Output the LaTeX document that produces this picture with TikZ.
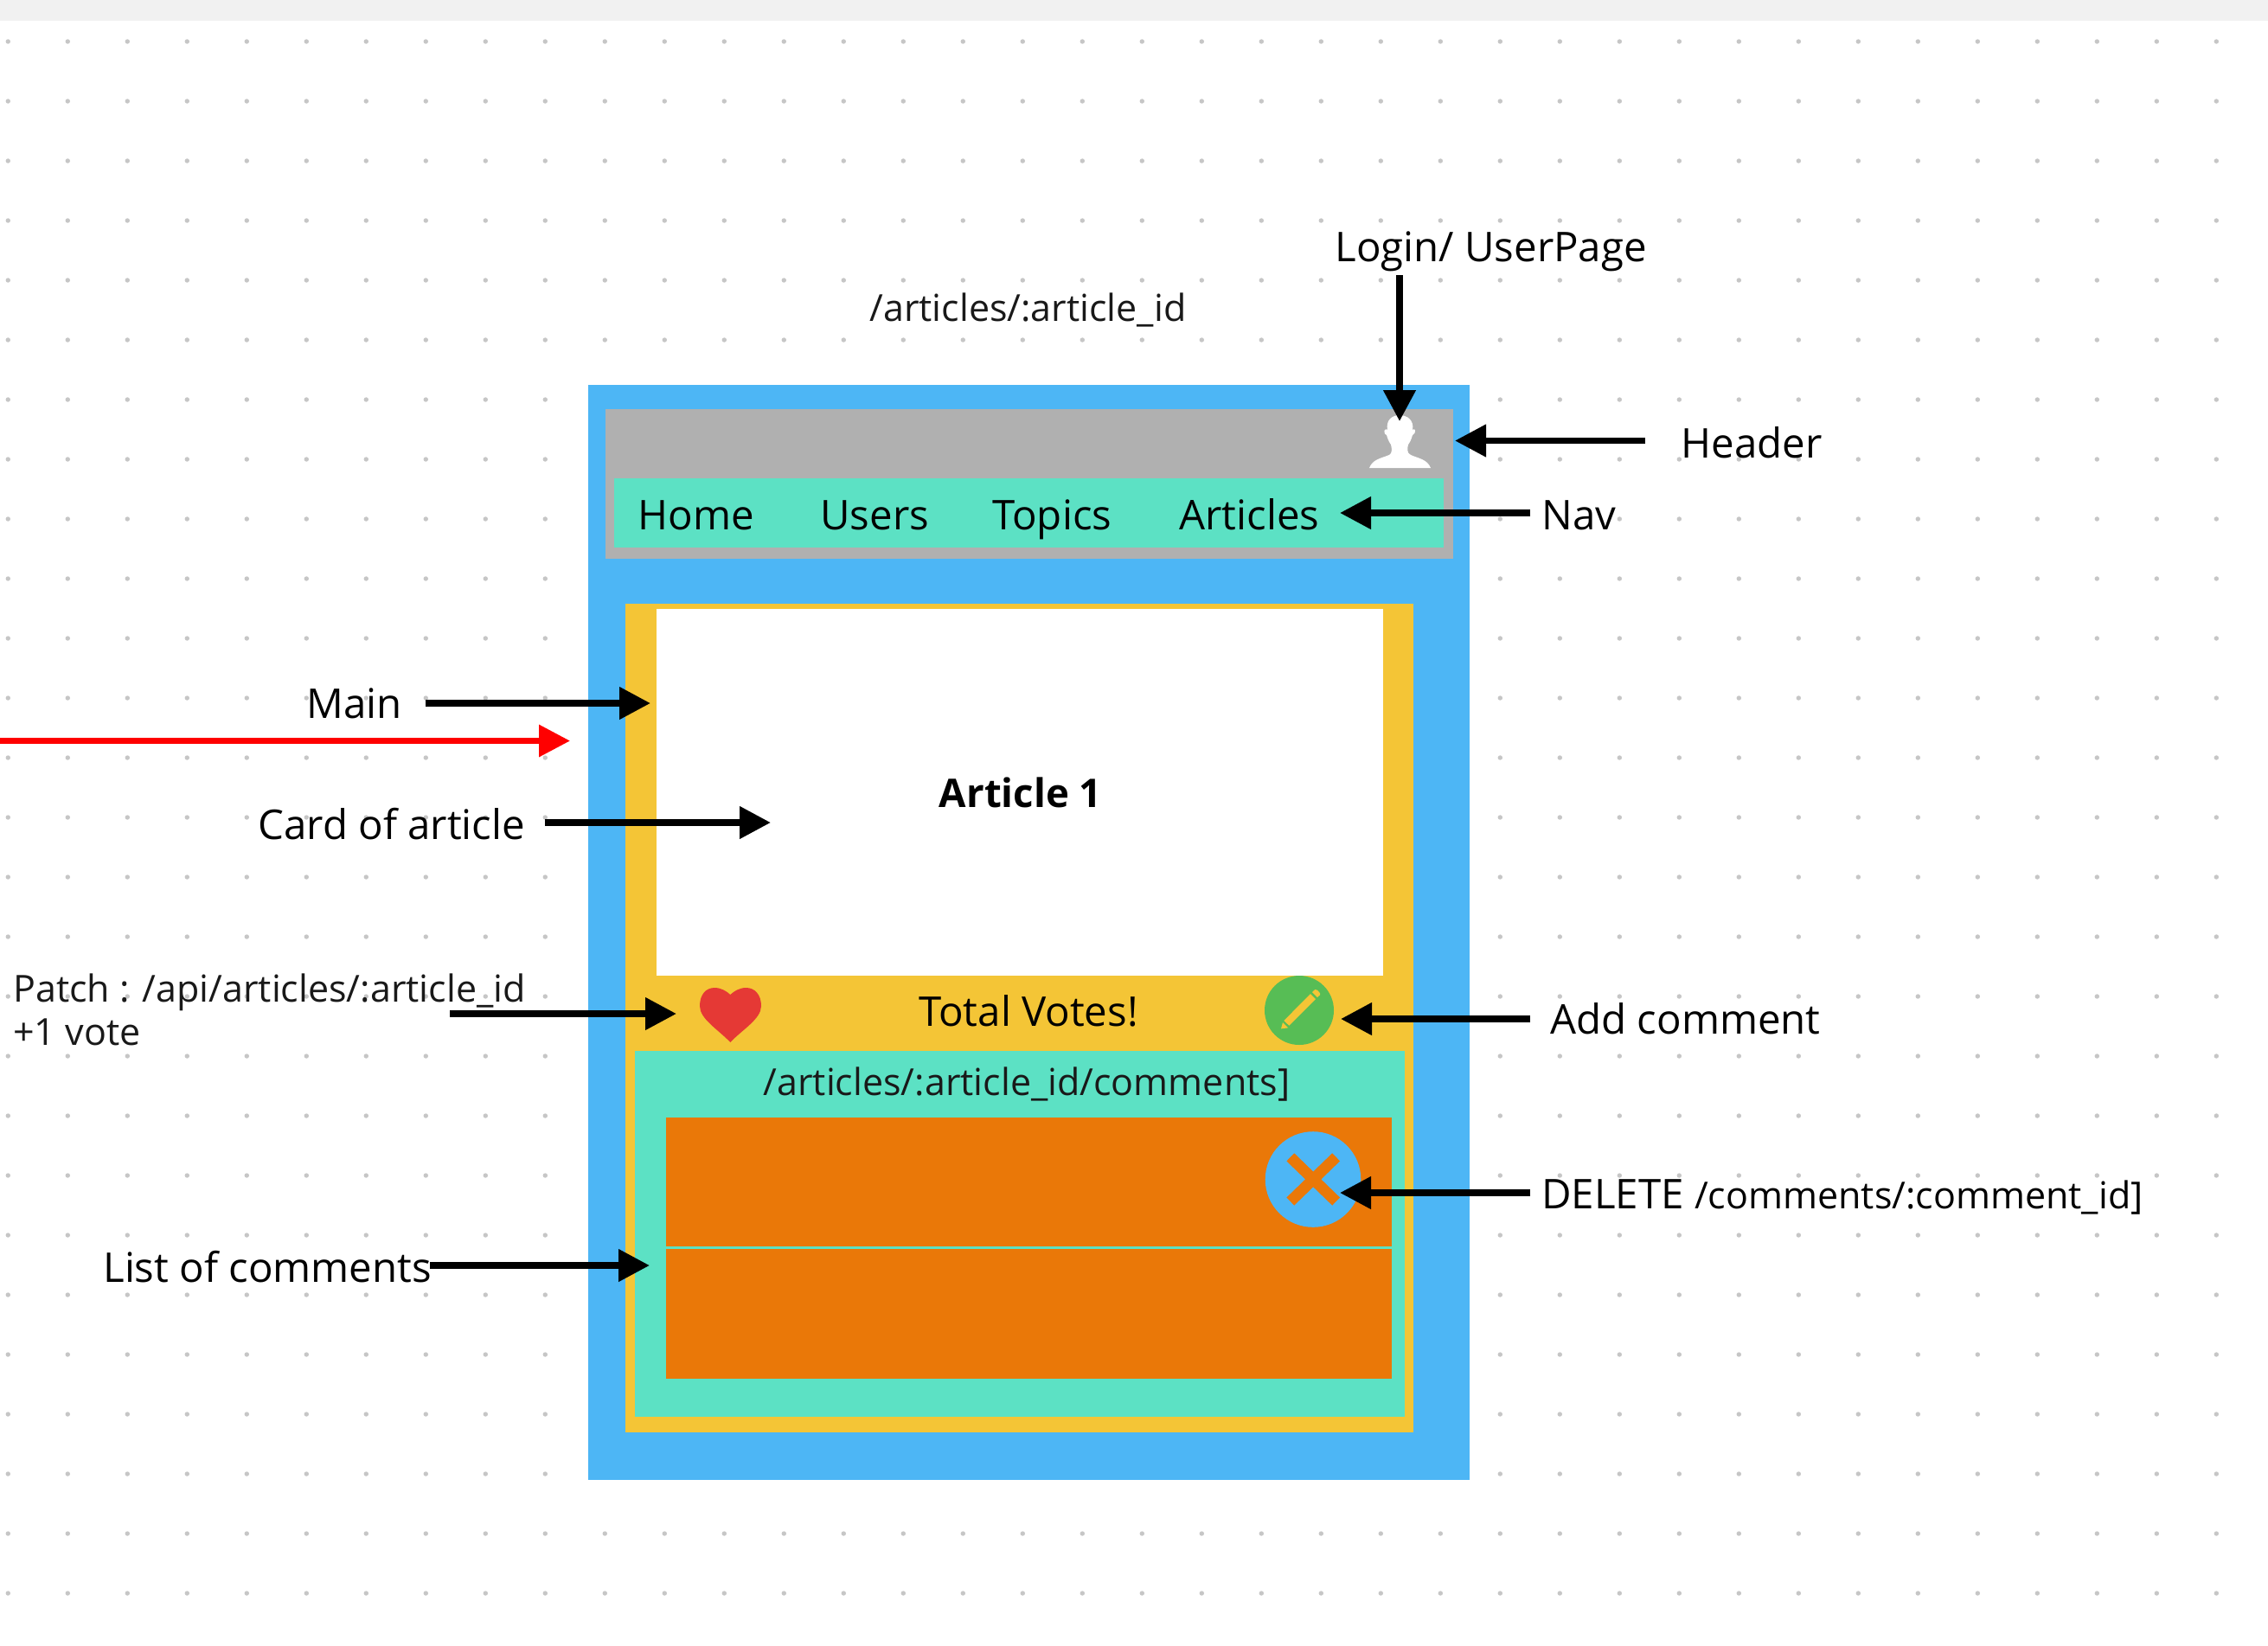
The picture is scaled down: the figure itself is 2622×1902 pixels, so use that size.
\documentclass[tikz,border=0pt]{standalone}
\usepackage{fontspec}
\setmainfont{Open Sans}
\usetikzlibrary{arrows.meta}
\definecolor{bluebg}{HTML}{4DB6F5}
\definecolor{greybar}{HTML}{B0B0B0}
\definecolor{tealbox}{HTML}{5CE1C4}
\definecolor{yellowbox}{HTML}{F4C536}
\definecolor{orangebox}{HTML}{EA7808}
\definecolor{heartred}{HTML}{E53935}
\definecolor{pencilgreen}{HTML}{57BD55}
\definecolor{dotgrey}{HTML}{C6C6C6}
\definecolor{bandgrey}{HTML}{F1F1F1}
\newcommand{\bigtxt}{\fontsize{23.7pt}{28pt}\selectfont}
\newcommand{\smalltxt}{\fontsize{21.5pt}{25pt}\selectfont}
\tikzset{
  lab/.style={anchor=base west,inner sep=0pt,font=\bigtxt,text=black},
  labs/.style={anchor=base west,inner sep=0pt,font=\smalltxt,text=black!90},
  callout/.style={line width=3.8pt,draw=black,-{Triangle[length=18pt,width=18pt]}},
  redline/.style={line width=3.3pt,draw=red,-{Triangle[length=18pt,width=18pt,fill=red]}},
}
\begin{document}
\begin{tikzpicture}[x=0.5pt,y=-0.5pt]
\useasboundingbox (0,0) rectangle (2622,1902);
\fill[white] (0,0) rectangle (2622,1902);
\fill[bandgrey] (0,0) rectangle (2622,24);
\foreach \i in {0,...,37} \foreach \j in {0,...,26}
  \fill[dotgrey] ({9.3+69*\i},{48+69*\j}) circle (2.7);
% boxes
\fill[bluebg] (680,445) rectangle (1699,1711);
\fill[greybar] (700,473) rectangle (1680,646);
\fill[tealbox] (710,553) rectangle (1669,633);
\fill[yellowbox] (723,698) rectangle (1634,1656);
\fill[white] (759,704) rectangle (1599,1128);
\fill[tealbox] (734,1215) rectangle (1624,1638);
\fill[orangebox] (770,1292) rectangle (1609,1594);
\fill[tealbox] (770,1441) rectangle (1609,1444);
% person icon
\fill[white] (1583,541) .. controls (1587,531) and (1596,530) .. (1606,526)
  .. controls (1610,524) and (1609,518) .. (1608,514)
  .. controls (1605,510) and (1604,506) .. (1603,503)
  .. controls (1600,502) and (1600,498) .. (1601,497)
  .. controls (1602,496) and (1603,496) .. (1604,497)
  .. controls (1602,486) and (1609,480) .. (1618,480)
  .. controls (1627,480) and (1635,486) .. (1633,497)
  .. controls (1634,496) and (1635,496) .. (1636,497)
  .. controls (1636,499) and (1636,502) .. (1633,503)
  .. controls (1632,506) and (1631,510) .. (1628,514)
  .. controls (1627,518) and (1626,524) .. (1631,526)
  .. controls (1640,530) and (1650,531) .. (1654,541) -- cycle;
% heart
\fill[heartred] (844.3,1205) .. controls (830,1190) and (809,1178) .. (809,1163)
  .. controls (809,1150) and (816,1142) .. (826,1142)
  .. controls (834,1142) and (840,1146) .. (844.3,1150)
  .. controls (848.6,1146) and (854.6,1142) .. (862.6,1142)
  .. controls (872.6,1142) and (880,1150) .. (880,1163)
  .. controls (880,1178) and (858.6,1190) .. (844.3,1205) -- cycle;
% pencil circle
\fill[pencilgreen] (1502,1168) circle (40);
\fill[yellowbox] (1481,1189.3) -- (1483,1182) -- (1489.3,1188.3) -- cycle;
\fill[yellowbox] (1484.3,1180) -- (1515,1149) -- (1521,1155) -- (1490.3,1185.7) -- cycle;
\fill[yellowbox] (1517,1147) -- (1520.3,1144) -- (1523,1144.7) -- (1526,1148.3) -- (1526,1150.3) -- (1523,1153) -- cycle;
% delete circle
\fill[bluebg] (1518,1363.5) circle (55.3);
\draw[orangebox,line width=6.35pt] (1491.8,1337.8) -- (1544.6,1389) (1544.6,1337.8) -- (1491.8,1389);
% texts
\node[lab] (login) at (1543,302.5) {Login/ UserPage};
\node[labs] (route) at (1005,371) {/articles/:article\_id};
\node[lab] (header) at (1943,529) {Header};
\node[lab] (nav) at (1782,612) {Nav};
\node[lab] (home) at (737,612) {Home};
\node[lab] (users) at (948,612) {Users};
\node[lab] (topics) at (1147,612) {Topics};
\node[lab] (articles) at (1363,612) {Articles};
\node[lab] (main) at (354,830.5) {Main};
\node[lab,anchor=base,font=\fontsize{22.8pt}{28pt}\selectfont\bfseries] (article) at (1180,933) {Article 1};
\node[lab] (card) at (298,970) {Card of article};
\node[labs] (patch) at (15,1158.5) {Patch : /api/articles/:article\_id};
\node[labs] (vote) at (15,1208.5) {+1 vote};
\node[lab] (votes) at (1062,1186) {Total Votes!};
\node[lab] (addc) at (1792,1195) {Add comment};
\node[labs,anchor=base] (commentsroute) at (1187,1266) {/articles/:article\_id/comments]};
\node[lab] (delete) at (1782,1397) {DELETE \smalltxt/comments/:comment\_id]};
\node[lab] (listc) at (119,1482) {List of comments};
% anchors of connectors
\coordinate (loginfrom) at (1618,318); \coordinate (logintip) at (1618,487);
\coordinate (headerfrom) at (1902,509.5); \coordinate (headertip) at (1682,509.5);
\coordinate (navfrom) at (1769,593); \coordinate (navtip) at (1549,593);
\coordinate (mainfrom) at (492,813); \coordinate (maintip) at (752,813);
\coordinate (redfrom) at (0,856.5); \coordinate (redtip) at (659,856.5);
\coordinate (cardfrom) at (630,951); \coordinate (cardtip) at (891,951);
\coordinate (patchfrom) at (520,1172); \coordinate (patchtip) at (782,1172);
\coordinate (addfrom) at (1769,1178); \coordinate (addtip) at (1550,1178);
\coordinate (delfrom) at (1769,1379); \coordinate (deltip) at (1549,1379);
\coordinate (listfrom) at (497,1463); \coordinate (listtip) at (751,1463);
\draw[callout] (loginfrom) -- (logintip);
\draw[callout] (headerfrom) -- (headertip);
\draw[callout] (navfrom) -- (navtip);
\draw[callout] (mainfrom) -- (maintip);
\draw[redline] (redfrom) -- (redtip);
\draw[callout] (cardfrom) -- (cardtip);
\draw[callout] (patchfrom) -- (patchtip);
\draw[callout] (addfrom) -- (addtip);
\draw[callout] (delfrom) -- (deltip);
\draw[callout] (listfrom) -- (listtip);
\end{tikzpicture}
\end{document}
